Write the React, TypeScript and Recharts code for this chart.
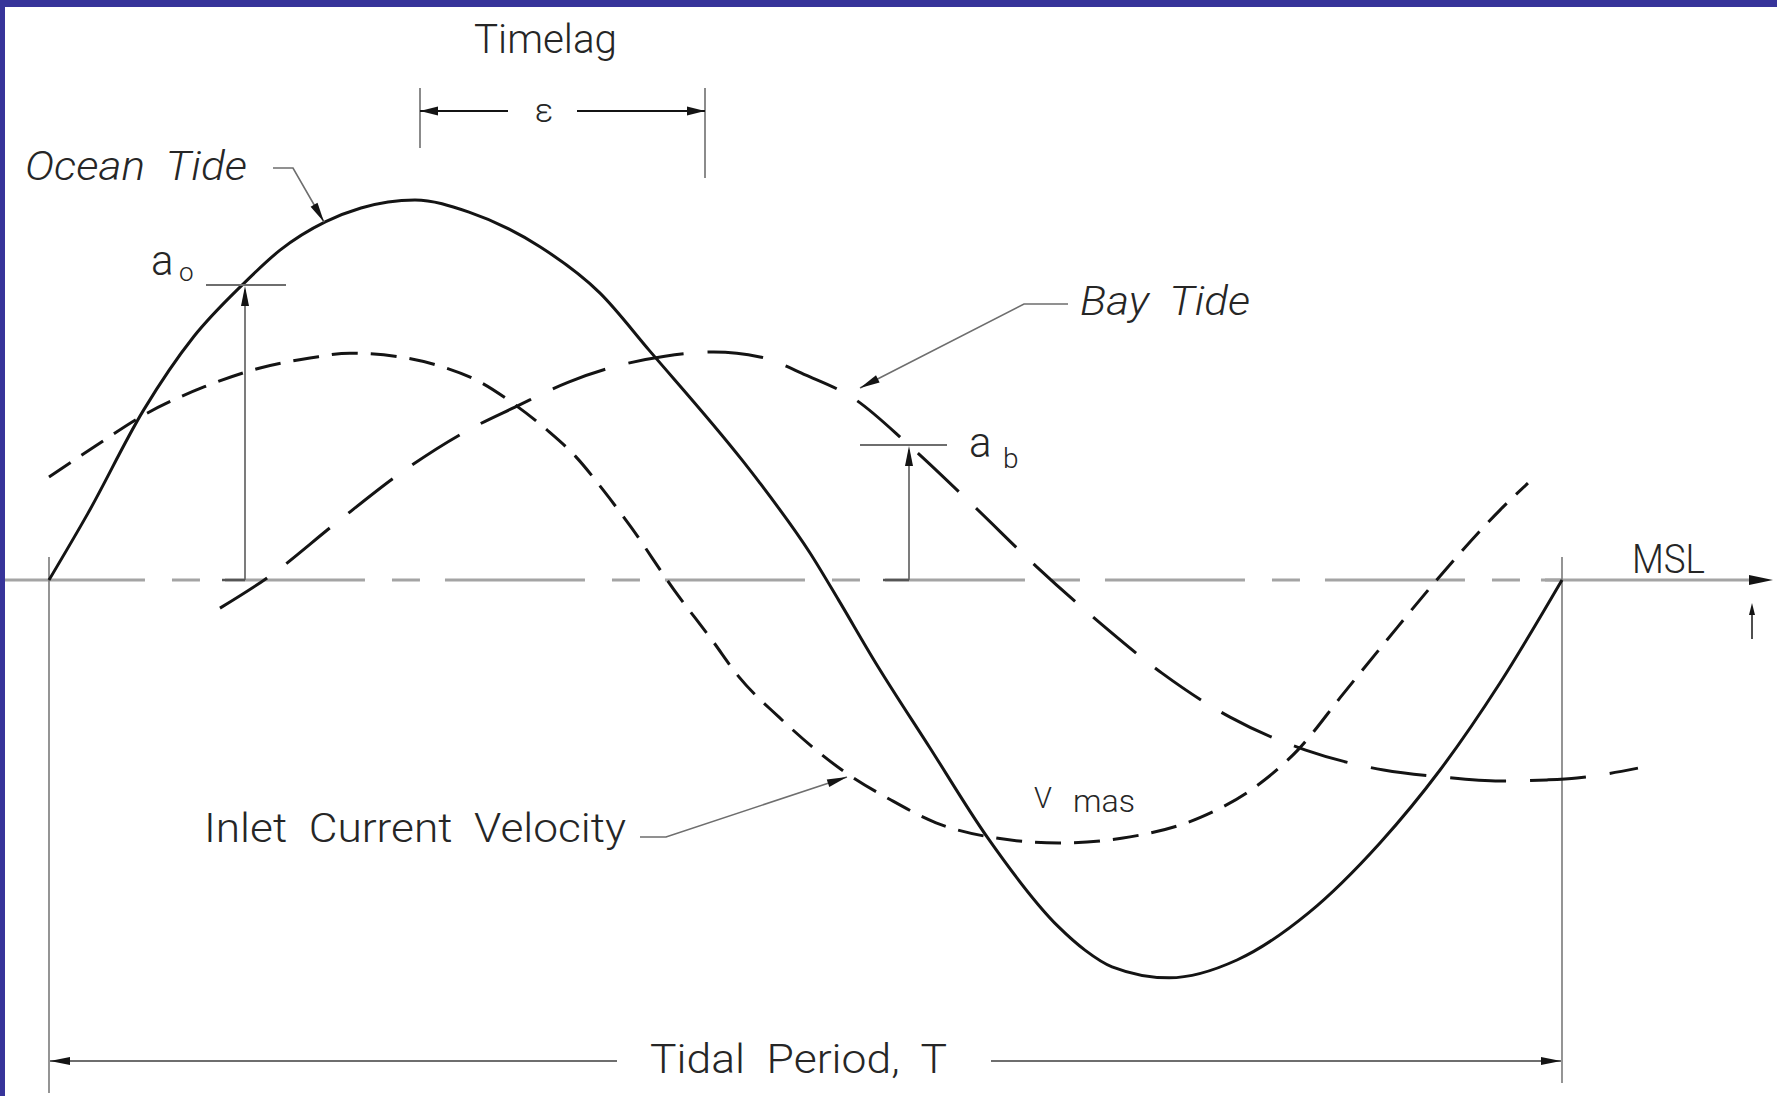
import { LineChart, Line, XAxis, YAxis, ReferenceLine } from 'recharts';

const W = 1777;
const H = 1096;

// time as a fraction of the tidal period T, elevation / velocity as a fraction of the ocean amplitude
const X_DOMAIN = [-0.032386, 1.142102];
const Y_DOMAIN = [-1.357895, 1.526316];

const oceanT = [0, 0.0258, 0.0625, 0.0956, 0.1276, 0.1527, 0.1829, 0.2062, 0.2419, 0.2776, 0.3245, 0.3642, 0.3966, 0.458, 0.4699, 0.503, 0.5219, 0.5453, 0.5823, 0.62, 0.6673, 0.6847, 0.7026, 0.7403, 0.7852, 0.8325, 0.8797, 0.9194, 0.959, 1.0];
const oceanEta = [0, 0.176, 0.447, 0.64, 0.776, 0.868, 0.943, 0.979, 1.0, 0.968, 0.877, 0.755, 0.605, 0.316, 0.255, 0.071, -0.053, -0.211, -0.442, -0.676, -0.913, -0.974, -1.018, -1.047, -1.0, -0.876, -0.692, -0.5, -0.271, 0];

const velocityT = [0, 0.0297, 0.0648, 0.1024, 0.1395, 0.1725, 0.1989, 0.232, 0.2584, 0.2849, 0.308, 0.3291, 0.3483, 0.3662, 0.3847, 0.4131, 0.4382, 0.456, 0.4825, 0.5241, 0.5565, 0.5863, 0.6213, 0.6673, 0.7145, 0.7614, 0.7971, 0.8255, 0.8559, 0.8843, 0.9161, 0.959, 0.9775];
const velocityVal = [0.271, 0.35, 0.439, 0.508, 0.558, 0.584, 0.597, 0.587, 0.563, 0.521, 0.461, 0.395, 0.324, 0.237, 0.139, -0.026, -0.158, -0.255, -0.361, -0.5, -0.579, -0.639, -0.676, -0.692, -0.676, -0.624, -0.545, -0.447, -0.297, -0.158, -0.005, 0.184, 0.255];

const bayT = [0.113, 0.1451, 0.1897, 0.2325, 0.2773, 0.308, 0.3434, 0.3781, 0.4071, 0.4393, 0.4699, 0.5003, 0.5314, 0.5684, 0.6127, 0.653, 0.694, 0.7356, 0.7806, 0.8301, 0.8821, 0.9194, 0.959, 0.9901, 1.0099, 1.0502];
const bayEta = [-0.074, 0.008, 0.15, 0.282, 0.395, 0.455, 0.521, 0.566, 0.589, 0.6, 0.587, 0.539, 0.479, 0.355, 0.189, 0.034, -0.111, -0.245, -0.361, -0.447, -0.5, -0.518, -0.529, -0.526, -0.521, -0.495];

const toRows = (ts: number[], vs: number[]) => ts.map((t, i) => ({ t, v: vs[i] }));

const INK = '#141414';
const THIN = '#6e6e6e';
const FONT = 'Roboto, "DejaVu Sans", sans-serif';

// filled arrow head with tip at (x, y), pointing away from (fx, fy)
function Head({ x, y, fx, fy, len = 18, half = 4.5 }: { x: number; y: number; fx: number; fy: number; len?: number; half?: number }) {
  const dx = x - fx;
  const dy = y - fy;
  const d = Math.hypot(dx, dy) || 1;
  const ux = dx / d;
  const uy = dy / d;
  const bx = x - ux * len;
  const by = y - uy * len;
  const pts = `${x},${y} ${bx - uy * half},${by + ux * half} ${bx + uy * half},${by - ux * half}`;
  return <polygon points={pts} fill={INK} />;
}

function Label(props: { x: number; y: number; size?: number; italic?: boolean; width?: number; anchor?: string; children: string }) {
  const { x, y, size = 40, italic, width, anchor, children } = props;
  return (
    <text
      x={x}
      y={y}
      fontSize={size}
      fontFamily={FONT}
      fontWeight={300}
      fontStyle={italic ? 'italic' : 'normal'}
      fill="#262626"
      textAnchor={anchor || 'start'}
      textLength={width}
      lengthAdjust={width ? 'spacingAndGlyphs' : undefined}
      style={{ whiteSpace: 'pre' }}
    >
      {children}
    </text>
  );
}

function Annotations() {
  return (
    <svg width={W} height={H} style={{ position: 'absolute', left: 0, top: 0, pointerEvents: 'none' }}>
      {/* timelag */}
      <Label x={474} y={53} width={143}>Timelag</Label>
      <line x1={420} y1={88} x2={420} y2={148} stroke={THIN} strokeWidth={1.6} />
      <line x1={705} y1={88} x2={705} y2={178} stroke={THIN} strokeWidth={1.6} />
      <line x1={420} y1={111} x2={508} y2={111} stroke={INK} strokeWidth={2} />
      <line x1={577} y1={111} x2={705} y2={111} stroke={INK} strokeWidth={2} />
      <Head x={420} y={111} fx={508} fy={111} />
      <Head x={705} y={111} fx={577} fy={111} />
      <Label x={544} y={122} size={34} anchor="middle">ε</Label>

      {/* ocean tide */}
      <Label x={25} y={180} size={41} italic width={222}>{'Ocean  Tide'}</Label>
      <polyline points="273,168 293,168 324,222" fill="none" stroke={THIN} strokeWidth={1.6} />
      <Head x={324} y={222} fx={293} fy={168} len={20} half={4} />

      {/* a_o */}
      <Label x={151} y={275} size={42}>a</Label>
      <Label x={179} y={281} size={26}>o</Label>
      <line x1={206} y1={285} x2={286} y2={285} stroke={THIN} strokeWidth={1.8} />
      <line x1={245} y1={580} x2={245} y2={290} stroke={THIN} strokeWidth={1.8} />
      <line x1={222} y1={580} x2={245} y2={580} stroke="#555" strokeWidth={2.5} />
      <Head x={245} y={286} fx={245} fy={580} len={20} half={4} />

      {/* bay tide */}
      <Label x={1080} y={315} size={41} italic width={170}>{'Bay  Tide'}</Label>
      <polyline points="1068,304 1024,304 860,388" fill="none" stroke={THIN} strokeWidth={1.6} />
      <Head x={860} y={388} fx={1024} fy={304} len={20} half={4} />

      {/* a_b */}
      <Label x={969} y={457} size={42}>a</Label>
      <Label x={1003} y={468} size={28}>b</Label>
      <line x1={860} y1={445} x2={947} y2={445} stroke={THIN} strokeWidth={1.8} />
      <line x1={909} y1={580} x2={909} y2={450} stroke={THIN} strokeWidth={1.8} />
      <line x1={883} y1={580} x2={909} y2={580} stroke="#555" strokeWidth={2.5} />
      <Head x={909} y={446} fx={909} fy={580} len={20} half={4} />

      {/* MSL */}
      <Label x={1632} y={573} width={73}>MSL</Label>
      <Head x={1773} y={580} fx={1700} fy={580} len={24} half={5} />
      <line x1={1752} y1={639} x2={1752} y2={610} stroke={INK} strokeWidth={1.5} />
      <Head x={1752} y={603} fx={1752} fy={639} len={12} half={3} />

      {/* inlet current velocity */}
      <Label x={204} y={842} width={422}>{'Inlet  Current  Velocity'}</Label>
      <polyline points="640,837 666,837 847,777" fill="none" stroke={THIN} strokeWidth={1.6} />
      <Head x={847} y={777} fx={666} fy={837} len={20} half={4} />
      <Label x={1034} y={808} size={29}>V</Label>
      <Label x={1073} y={812} size={31} width={62}>mas</Label>

      {/* tidal period */}
      <Label x={650} y={1073} width={297}>{'Tidal  Period,  T'}</Label>
      <line x1={50} y1={1061} x2={617} y2={1061} stroke={THIN} strokeWidth={2} />
      <line x1={991} y1={1061} x2={1561} y2={1061} stroke={THIN} strokeWidth={2} />
      <Head x={50} y={1061} fx={617} fy={1061} len={20} half={4} />
      <Head x={1561} y={1061} fx={991} fy={1061} len={20} half={4} />
    </svg>
  );
}

export default function App() {
  const ocean = toRows(oceanT, oceanEta);
  const velocity = toRows(velocityT, velocityVal);
  const bay = toRows(bayT, bayEta);

  return (
    <div style={{ position: 'absolute', left: 0, top: 0, width: W, height: H, background: '#fff', overflow: 'hidden' }}>
      <LineChart width={W} height={H} margin={{ top: 0, right: 0, bottom: 0, left: 0 }}>
        <XAxis type="number" dataKey="t" domain={X_DOMAIN} allowDataOverflow hide />
        <YAxis type="number" domain={Y_DOMAIN} allowDataOverflow hide />
        {/* mean sea level, centre-line style, then solid past the period */}
        <ReferenceLine
          segment={[{ x: -0.0291, y: 0 }, { x: 1.0, y: 0 }]}
          stroke="#a4a4a4"
          strokeWidth={3}
          strokeDasharray="140 27 28 25"
          ifOverflow="visible"
        />
        <ReferenceLine segment={[{ x: 0.9861, y: 0 }, { x: 1.126, y: 0 }]} stroke="#a4a4a4" strokeWidth={3} ifOverflow="visible" />
        <ReferenceLine segment={[{ x: 0, y: 0.0605 }, { x: 0, y: -1.35 }]} stroke="#7a7a7a" strokeWidth={1.6} ifOverflow="visible" />
        <ReferenceLine segment={[{ x: 1, y: 0.0605 }, { x: 1, y: -1.3237 }]} stroke="#7a7a7a" strokeWidth={1.6} ifOverflow="visible" />
        <Line data={velocity} dataKey="v" type="monotone" stroke={INK} strokeWidth={3} strokeDasharray="26 13" dot={false} activeDot={false} isAnimationActive={false} />
        <Line data={bay} dataKey="v" type="monotone" stroke={INK} strokeWidth={3} strokeDasharray="56 24" dot={false} activeDot={false} isAnimationActive={false} />
        <Line data={ocean} dataKey="v" type="monotone" stroke={INK} strokeWidth={3} dot={false} activeDot={false} isAnimationActive={false} />
      </LineChart>
      <Annotations />
      <div style={{ position: 'absolute', left: 0, top: 0, width: W, height: 7, background: '#37349a' }} />
      <div style={{ position: 'absolute', left: 0, top: 0, width: 5, height: H, background: '#37349a' }} />
    </div>
  );
}
